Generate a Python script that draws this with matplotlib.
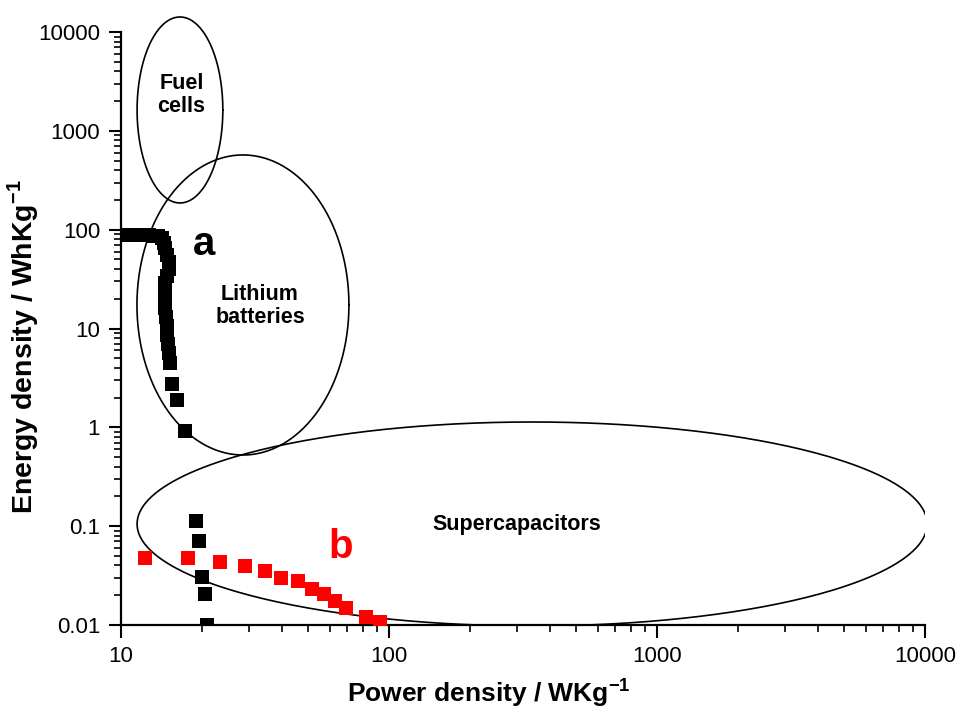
import numpy as np
import matplotlib
matplotlib.use("Agg")
import matplotlib.pyplot as plt
from matplotlib.ticker import FixedLocator, FixedFormatter, LogLocator, NullFormatter

plt.rcParams['font.family'] = ['Liberation Sans', 'DejaVu Sans']
plt.rcParams['mathtext.fontset'] = 'custom'
plt.rcParams['mathtext.rm'] = 'Liberation Sans'
plt.rcParams['mathtext.bf'] = 'Liberation Sans:bold'

# --------------------------
# Data
# --------------------------
# series a (black)
a_power = [10.7, 11.2, 11.7, 12.2, 12.7, 13.2, 13.7, 14.2, 14.5, 14.6, 14.9, 15.1,
           15.1, 14.8, 14.6, 14.6, 14.6, 14.6, 14.7, 14.8, 14.9, 15.0, 15.1, 15.3,
           15.5, 16.2, 17.3,
           19.1, 19.5, 20.0, 20.5, 20.9]
a_energy = [88, 88, 88, 88, 88, 87, 86, 82, 74, 66, 55, 47,
            40, 34, 29, 25, 20, 16, 13, 10.5, 8.5, 7.0, 5.6, 4.5,
            2.75, 1.88, 0.92,
            0.112, 0.0705, 0.0305, 0.0205, 0.0101]

# series b (red)
b_power = [12.3, 17.8, 23.4, 29.0, 34.4, 39.7, 45.7, 51.4, 57.0, 63.1, 69.4, 82.4, 92.2]
b_energy = [0.048, 0.048, 0.0432, 0.0394, 0.0351, 0.0301, 0.0277, 0.0233, 0.0205,
            0.0174, 0.015, 0.012, 0.0108]

# regions: centre (log10 power, log10 energy) and half-axes in decades
regions = ['Fuel\ncells', 'Lithium\nbatteries', 'Supercapacitors']
region_cx = [1.220, 1.455, 2.534]
region_cy = [3.211, 1.238, -0.978]
region_ax = [0.160, 0.3955, 1.474]
region_ay = [0.941, 1.518, 1.032]
label_x = [16.8, 33, 300]
label_y = [2300, 17, 0.105]

x_ticks = [10, 100, 1000, 10000]
y_ticks = [0.01, 0.1, 1, 10, 100, 1000, 10000]
y_ticklabels = ['0.01', '0.1', '1', '10', '100', '1000', '10000']

# --------------------------
# Plot
# --------------------------
fig = plt.figure(figsize=(9.59, 7.11), dpi=100)
ax = fig.add_axes([121/959, 1-625/711, (925-121)/959, (625-32)/711])
ax.set_xscale('log')
ax.set_yscale('log')
ax.set_xlim(10, 10000)
ax.set_ylim(0.01, 10000)

t = np.linspace(0, 2*np.pi, 400)
for name, cx, cy, rx, ry in zip(regions, region_cx, region_cy, region_ax, region_ay):
    ax.plot(10**(cx + rx*np.cos(t)), 10**(cy + ry*np.sin(t)),
            color='black', lw=1.2, clip_on=(name != 'Fuel\ncells'), zorder=2)

for name, lx, ly in zip(regions, label_x, label_y):
    ax.text(lx, ly, name, ha='center', va='center', fontsize=15.5,
            fontweight='bold', linespacing=1.15)

ax.plot(a_power, a_energy, 's', color='black', ms=9.5, mew=0, zorder=3)
ax.plot(b_power, b_energy, 's', color='#ff0000', ms=9.5, mew=0, zorder=3)

ax.text(18.5, 72, 'a', fontsize=29, fontweight='bold', color='black',
        ha='left', va='center')
ax.text(66, 0.061, 'b', fontsize=29, fontweight='bold', color='#ff0000',
        ha='center', va='center')

ax.spines['top'].set_visible(False)
ax.spines['right'].set_visible(False)
for s in ['left', 'bottom']:
    ax.spines[s].set_linewidth(1.6)

ax.xaxis.set_major_locator(FixedLocator(x_ticks))
ax.xaxis.set_major_formatter(FixedFormatter([str(v) for v in x_ticks]))
ax.yaxis.set_major_locator(FixedLocator(y_ticks))
ax.yaxis.set_major_formatter(FixedFormatter(y_ticklabels))
for axis in (ax.xaxis, ax.yaxis):
    axis.set_minor_locator(LogLocator(base=10, subs=np.arange(2, 10), numticks=20))
    axis.set_minor_formatter(NullFormatter())
ax.tick_params(which='major', direction='out', length=9, width=1.5,
               labelsize=16, pad=6)
ax.tick_params(which='minor', direction='out', length=5, width=1.2)

ax.set_xlabel(r'Power density / WKg$^{\mathbf{-1}}$', fontsize=19,
              fontweight='bold')
ax.xaxis.set_label_coords(0.458, -0.087)
ax.set_ylabel(r'Energy density / WhKg$^{\mathbf{-1}}$', fontsize=20.5,
              fontweight='bold')
ax.yaxis.set_label_coords(-0.099, 0.47)

fig.savefig('out.png', dpi=100)
